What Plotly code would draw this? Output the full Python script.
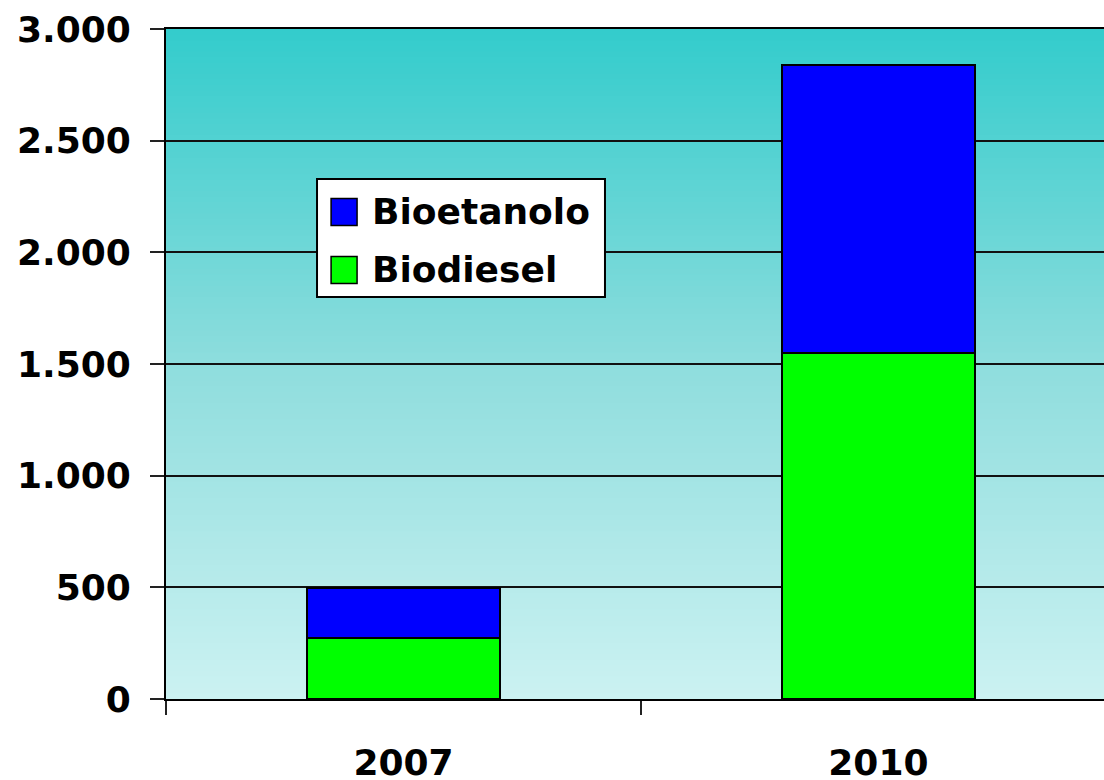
import plotly.graph_objects as go

# Data
years = ["2007", "2010"]
biodiesel = [275, 1550]
bioetanolo = [220, 1290]

BLUE = "#0000FF"
GREEN = "#00FF00"
FONT = dict(family="DejaVu Sans", size=36, color="#000000", weight="bold")

fig = go.Figure()
fig.add_trace(go.Bar(
    x=years, y=biodiesel, name="Biodiesel", width=0.405,
    marker=dict(color=GREEN, line=dict(color="#000000", width=2)),
))
fig.add_trace(go.Bar(
    x=years, y=bioetanolo, name="Bioetanolo", width=0.405,
    marker=dict(color=BLUE, line=dict(color="#000000", width=2)),
))

# Vertical gradient behind the plot area (teal at top, pale at bottom).
# Bands overlap so no seams show between them.
top = (51, 204, 204)
mid = (142, 221, 221)
bot = (204, 242, 242)
n_bands = 120
shapes = []
for i in range(n_bands):
    t = (i + 0.5) / n_bands  # 0 at bottom, 1 at top
    if t < 0.5:
        a, b, f = bot, mid, t / 0.5
    else:
        a, b, f = mid, top, (t - 0.5) / 0.5
    col = tuple(round(a[k] + (b[k] - a[k]) * f) for k in range(3))
    shapes.append(dict(
        type="rect", xref="paper", yref="paper", layer="below",
        x0=0, x1=1, y0=i / n_bands, y1=min(1, (i + 2) / n_bands),
        fillcolor="rgb(%d,%d,%d)" % col, line=dict(width=0),
    ))

# Hand-drawn legend box (big square swatches like the original)
shapes.append(dict(type="rect", xref="paper", yref="paper", layer="above",
                   x0=0.161, x1=0.468, y0=0.600, y1=0.776,
                   fillcolor="#FFFFFF", line=dict(color="#000000", width=2)))
legend_items = [("Bioetanolo", BLUE, 0.7269), ("Biodiesel", GREEN, 0.6403)]
annotations = []
for label, color, yc in legend_items:
    shapes.append(dict(type="rect", xref="paper", yref="paper", layer="above",
                       x0=0.176, x1=0.2037, y0=yc - 0.0201, y1=yc + 0.0201,
                       fillcolor=color, line=dict(color="#000000", width=1.5)))
    annotations.append(dict(xref="paper", yref="paper", x=0.2178, y=yc,
                            xanchor="left", yanchor="middle", text=label,
                            showarrow=False, font=FONT))

fig.update_layout(
    width=1104, height=780,
    margin=dict(l=166, r=0, t=29, b=81, autoexpand=False),
    paper_bgcolor="#FFFFFF", plot_bgcolor="#FFFFFF",
    barmode="stack", showlegend=False,
    separators=",.",
    font=FONT,
    shapes=shapes, annotations=annotations,
)
# plot area runs off the right edge, like the original
fig.update_xaxes(
    type="category", range=[-0.5, 1.475], automargin=False,
    tickson="boundaries", ticks="outside", ticklen=14, tickwidth=2,
    tickcolor="#222222", showgrid=False,
    showline=True, linecolor="#000000", linewidth=2, mirror=True,
    tickfont=FONT, ticklabelstandoff=31,
)
fig.update_yaxes(
    range=[0, 3000], dtick=500, tickformat=",d", automargin=False,
    ticks="outside", ticklen=14, tickwidth=2, tickcolor="#222222",
    showgrid=True, gridcolor="#111111", gridwidth=2,
    showline=True, linecolor="#000000", linewidth=2,
    zeroline=False, tickfont=FONT, ticklabelstandoff=12,
)

# drop the default 8px body margin so the 1104x780 figure fills the window
fig.write_html("out.html", config={"displayModeBar": False},
               post_script="document.body.style.margin = '0';")
